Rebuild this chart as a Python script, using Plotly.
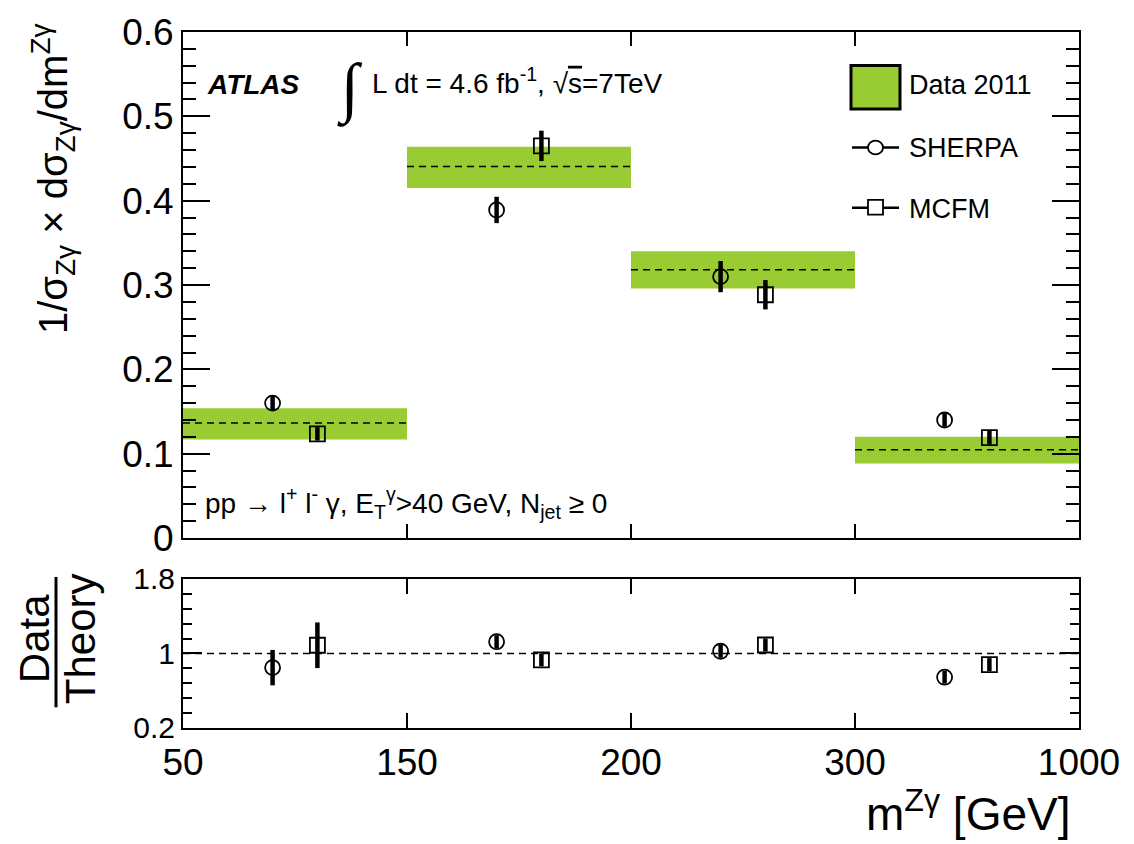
import plotly.graph_objects as go

# ---------------- data ----------------
bin_edges = ["50", "150", "200", "300", "1000"]
data_central = [0.1364, 0.4406, 0.318, 0.1048]
data_low = [0.117, 0.415, 0.296, 0.0884]
data_high = [0.154, 0.464, 0.340, 0.120]
sherpa = [0.160, 0.389, 0.310, 0.140]
sherpa_err = [0.009, 0.0156, 0.0185, 0.008]
mcfm = [0.1235, 0.465, 0.2885, 0.119]
mcfm_err = [0.008, 0.018, 0.0174, 0.008]
ratio_sherpa = [0.848, 1.126, 1.024, 0.745]
ratio_sherpa_err = [0.19, 0.07, 0.07, 0.07]
ratio_mcfm = [1.088, 0.932, 1.091, 0.88]
ratio_mcfm_err = [0.245, 0.07, 0.07, 0.07]

FONT = "Liberation Sans"
GREEN = "#99CC33"
nb = len(data_central)
idx = list(range(nb))
centers = [i + 0.5 for i in idx]
x_sherpa = [i + 0.4 for i in idx]
x_mcfm = [i + 0.6 for i in idx]

fig = go.Figure()

# data band
fig.add_trace(go.Bar(
    x=centers, y=[h - l for h, l in zip(data_high, data_low)], base=data_low,
    width=1.0, marker=dict(color=GREEN, line=dict(width=0)),
    xaxis="x", yaxis="y", showlegend=False, hoverinfo="skip"))

# dashed central value per bin
dx, dy = [], []
for i, v in zip(idx, data_central):
    dx += [i, i + 1, None]
    dy += [v, v, None]
fig.add_trace(go.Scatter(x=dx, y=dy, mode="lines",
                         line=dict(color="black", width=1.5, dash="7px,5px"),
                         xaxis="x", yaxis="y", showlegend=False, hoverinfo="skip"))

def pts(x, y, e, sym, xa, ya):
    return go.Scatter(
        x=x, y=y, mode="markers", xaxis=xa, yaxis=ya, showlegend=False,
        marker=dict(symbol=sym, size=15, color="black", line=dict(width=1.8, color="black")),
        error_y=dict(type="data", array=e, visible=True, color="black", thickness=4.5, width=0))

fig.add_trace(pts(x_sherpa, sherpa, sherpa_err, "circle-open", "x", "y"))
fig.add_trace(pts(x_mcfm, mcfm, mcfm_err, "square-open", "x", "y"))
fig.add_trace(pts(x_sherpa, ratio_sherpa, ratio_sherpa_err, "circle-open", "x2", "y2"))
fig.add_trace(pts(x_mcfm, ratio_mcfm, ratio_mcfm_err, "square-open", "x2", "y2"))

# ---------------- layout ----------------
W, H = 1134, 844
L, R, T, B = 183, 55, 23, 116

def px(x):
    return (x - L) / (W - L - R)

def py(y):
    return (H - B - y) / (H - T - B)

axis_common = dict(showline=True, linewidth=2, linecolor="black", mirror="ticks",
                   ticks="inside", tickcolor="black", tickwidth=2,
                   showgrid=False, zeroline=False)

fig.update_layout(
    width=W, height=H, margin=dict(l=L, r=R, t=T, b=B),
    paper_bgcolor="white", plot_bgcolor="white",
    font=dict(family=FONT, color="black"),
    showlegend=False, barmode="overlay",
    xaxis=dict(domain=[0, 1], range=[0, nb], anchor="y",
               tickvals=list(range(nb + 1)), ticktext=bin_edges,
               showticklabels=False, ticklen=14, **axis_common),
    xaxis2=dict(domain=[0, 1], range=[0, nb], anchor="y2", matches="x",
                tickvals=list(range(nb + 1)), ticktext=bin_edges,
                showticklabels=True, ticklen=15, ticklabelstandoff=1,
                tickfont=dict(size=37), **axis_common),
    yaxis=dict(domain=[0.2729, 1], range=[0, 0.6], anchor="x",
               tickvals=[0, 0.1, 0.2, 0.3, 0.4, 0.5, 0.6],
               ticktext=["0", "0.1", "0.2", "0.3", "0.4", "0.5", "0.6"],
               ticklen=27, tickfont=dict(size=37),
               minor=dict(dtick=0.02, ticklen=13, tickwidth=2, ticks="inside", tickcolor="black"),
               **axis_common),
    yaxis2=dict(domain=[0, 0.2142], range=[0.2, 1.8], anchor="x2",
                tickvals=[0.2, 1, 1.8], ticktext=["0.2", "1", "1.8"],
                ticklen=19, tickfont=dict(size=30),
                minor=dict(tick0=0.2, dtick=0.16, ticklen=9, tickwidth=2, ticks="inside", tickcolor="black"),
                **axis_common),
)

shapes = [
    # ratio reference line
    dict(type="line", xref="x2", yref="y2", x0=0, x1=nb, y0=1, y1=1,
         line=dict(color="black", width=1.5, dash="7px,5px"), layer="below"),
    # Data/Theory fraction bar
    dict(type="line", xref="paper", yref="paper", x0=px(56), x1=px(56), y0=py(575), y1=py(707),
         line=dict(color="black", width=3)),
    # legend: data box
    dict(type="rect", xref="paper", yref="paper", x0=px(851), x1=px(900), y0=py(101), y1=py(57),
         fillcolor=GREEN, line=dict(color="black", width=3)),
    # legend: SHERPA
    dict(type="line", xref="paper", yref="paper", x0=px(852), x1=px(899), y0=py(140), y1=py(140),
         line=dict(color="black", width=2.5)),
    dict(type="circle", xref="paper", yref="paper", x0=px(868), x1=px(883), y0=py(147), y1=py(133),
         fillcolor="white", line=dict(color="black", width=1.8)),
    # legend: MCFM
    dict(type="line", xref="paper", yref="paper", x0=px(852), x1=px(899), y0=py(201), y1=py(201),
         line=dict(color="black", width=2.5)),
    dict(type="rect", xref="paper", yref="paper", x0=px(868), x1=px(883), y0=py(208), y1=py(193),
         fillcolor="white", line=dict(color="black", width=1.8)),
]
fig.update_layout(shapes=shapes)

def ann(text, x, y, size, xanchor="left", yanchor="middle", angle=0, family=FONT):
    return dict(text=text, x=px(x), y=py(y), xref="paper", yref="paper",
                xanchor=xanchor, yanchor=yanchor, textangle=angle, showarrow=False,
                font=dict(size=size, family=family, color="black"))

annotations = [
    ann("<b><i>ATLAS</i></b>", 205, 76, 28),
    ann("\u222b", 350, 80, 66, xanchor="center", family="Liberation Serif"),
    ann("L dt = 4.6 fb<sup>-1</sup>, \u221a<span style='text-decoration:overline'>s</span>=7TeV",
        370, 73, 28),
    ann("pp \u2192 l<sup>+</sup> l<sup>-</sup> \u03b3, E<sub>T</sub><sup>\u03b3</sup>>40 GeV, N<sub>jet</sub> \u2265 0",
        203, 500, 28),
    ann("Data 2011", 907, 77, 27),
    ann("SHERPA", 907, 141, 27),
    ann("MCFM", 907, 202, 27),
    ann("1/\u03c3<sub>Z\u03b3</sub> \u00d7 d\u03c3<sub>Z\u03b3</sub>/dm<sup>Z\u03b3</sup>",
        53, 172, 40, xanchor="center", angle=-90),
    ann("Data", 34, 638, 42, xanchor="center", angle=-90),
    ann("Theory", 80, 638, 42, xanchor="center", angle=-90),
    ann("m<sup>Z\u03b3</sup> [GeV]", 1072, 812, 46, xanchor="right"),
]
fig.update_layout(annotations=annotations)

fig.write_html("out.html")
